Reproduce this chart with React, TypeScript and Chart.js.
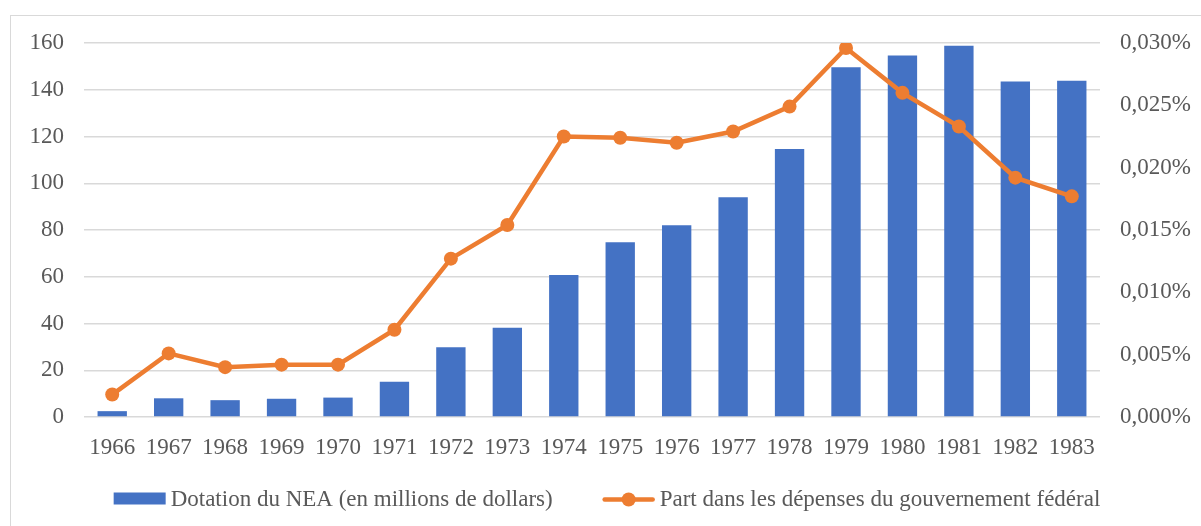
import React, { useEffect, useRef } from "react";
import { Chart, registerables } from "chart.js";

Chart.register(...registerables);

const years = ["1966","1967","1968","1969","1970","1971","1972","1973","1974","1975","1976","1977","1978","1979","1980","1981","1982","1983"];
const neaBudget = [2.5, 8.0, 7.2, 7.8, 8.3, 15.1, 29.8, 38.2, 60.8, 74.8, 82.0, 94.0, 114.6, 149.6, 154.6, 158.8, 143.5, 143.9];
const federalShare = [0.0018, 0.0051, 0.0040, 0.0042, 0.0042, 0.0070, 0.0127, 0.0154, 0.0225, 0.0224, 0.0220, 0.0229, 0.0249, 0.0296, 0.0260, 0.0233, 0.0192, 0.0177];
const barLabel = "Dotation du NEA (en millions de dollars)";
const lineLabel = "Part dans les dépenses du gouvernement fédéral";

const BLUE = "#4472C4";
const ORANGE = "#ED7D31";
const GRID = "#D9D9D9";
const TEXT = "#595959";
const FONT = "'Liberation Serif', 'Times New Roman', serif";

const legendPlugin = {
  id: "excelLegend",
  afterDraw(chart: any) {
    const ctx: CanvasRenderingContext2D = chart.ctx;
    ctx.save();
    ctx.font = `23px ${FONT}`;
    const w1 = ctx.measureText(barLabel).width;
    const w2 = ctx.measureText(lineLabel).width;
    const iconW = 52;
    const gapText = 5;
    const gapItems = 50;
    const total = iconW + gapText + w1 + gapItems + iconW + gapText + w2;
    const center = 607;
    const cy = 498.5;
    let x = center - total / 2;
    // bar item
    ctx.fillStyle = BLUE;
    ctx.fillRect(x, cy - 6, iconW, 12);
    x += iconW + gapText;
    ctx.fillStyle = TEXT;
    ctx.textBaseline = "middle";
    ctx.textAlign = "left";
    ctx.fillText(barLabel, x, cy + 1);
    x += w1 + gapItems;
    // line item
    ctx.strokeStyle = ORANGE;
    ctx.lineWidth = 4.5;
    ctx.lineCap = "round";
    ctx.beginPath();
    ctx.moveTo(x + 2, cy + 1);
    ctx.lineTo(x + iconW - 2, cy + 1);
    ctx.stroke();
    ctx.fillStyle = ORANGE;
    ctx.beginPath();
    ctx.arc(x + iconW / 2, cy + 1, 7, 0, Math.PI * 2);
    ctx.fill();
    x += iconW + gapText;
    ctx.fillStyle = TEXT;
    ctx.fillText(lineLabel, x, cy + 1);
    ctx.restore();
  },
};

export default function App() {
  const canvasRef = useRef<HTMLCanvasElement | null>(null);

  useEffect(() => {
    if (!canvasRef.current) return;
    const chart = new Chart(canvasRef.current, {
      type: "bar",
      data: {
        labels: years,
        datasets: [
          {
            type: "line",
            label: lineLabel,
            data: federalShare,
            yAxisID: "y1",
            borderColor: ORANGE,
            backgroundColor: ORANGE,
            borderWidth: 4.5,
            pointRadius: 7,
            pointBackgroundColor: ORANGE,
            pointBorderWidth: 0,
            tension: 0,
            order: 0,
          } as any,
          {
            type: "bar",
            label: barLabel,
            data: neaBudget,
            yAxisID: "y",
            backgroundColor: BLUE,
            borderWidth: 0,
            barPercentage: 0.52,
            categoryPercentage: 1,
            order: 1,
          } as any,
        ],
      },
      options: {
        responsive: false,
        animation: false,
        layout: { padding: { top: 43, left: 30, right: 0, bottom: 64 } },
        plugins: {
          tooltip: { enabled: false },
          legend: { display: false },
        },
        scales: {
          x: {
            grid: { display: false, drawTicks: false },
            border: { display: false },
            ticks: { color: TEXT, font: { family: FONT, size: 23 }, padding: 17, maxRotation: 0, autoSkip: false },
            afterFit: (s: any) => { s.height = 45; },
          },
          y: {
            position: "left",
            min: 0,
            max: 160,
            grid: { color: GRID, lineWidth: 1.5, drawTicks: false },
            border: { display: false },
            ticks: { stepSize: 20, color: TEXT, font: { family: FONT, size: 23 }, padding: 20 },
            afterFit: (s: any) => { s.width = 54; },
          },
          y1: {
            position: "right",
            min: 0,
            max: 0.03,
            grid: { display: false, drawTicks: false },
            border: { display: false },
            ticks: {
              stepSize: 0.005,
              color: TEXT,
              font: { family: FONT, size: 23 },
              padding: 20,
              callback: (v: any) => Number(v).toFixed(3).replace(".", ",") + "%",
            },
            afterFit: (s: any) => { s.width = 101; },
          },
        },
      },
      plugins: [legendPlugin],
    });
    return () => chart.destroy();
  }, []);

  return (
    <div style={{ position: "fixed", left: 0, top: 0, width: 1201, height: 526, overflow: "hidden", background: "#fff" }}>
      <div style={{ position: "absolute", left: 10, top: 15, width: 1400, height: 700, border: `1.5px solid ${GRID}` }} />
      <canvas ref={canvasRef} width={1201} height={526} style={{ position: "absolute", left: 0, top: 0, width: 1201, height: 526 }} />
    </div>
  );
}
